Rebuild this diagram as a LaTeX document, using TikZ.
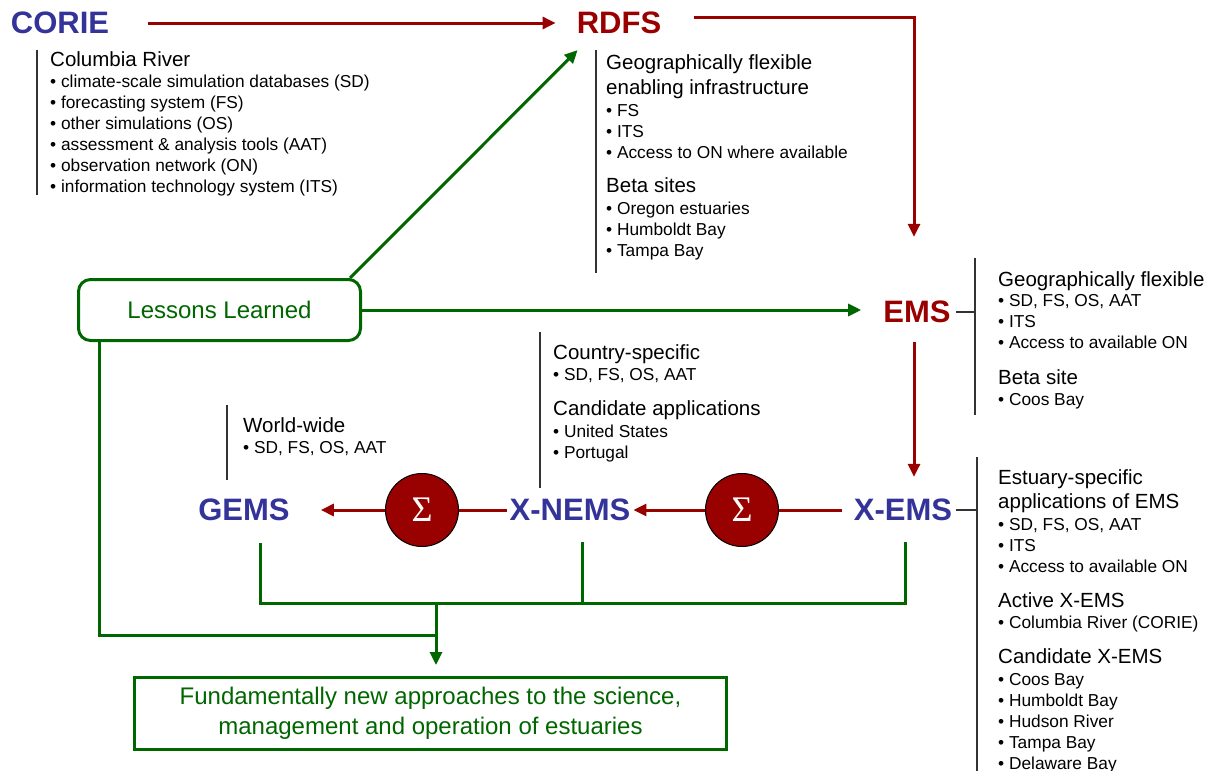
\documentclass[tikz,border=0pt]{standalone}
\usepackage{fontspec}
\setmainfont{Liberation Sans}
\newfontfamily\sigfont{Liberation Serif}
\usetikzlibrary{arrows.meta,calc}
\definecolor{blueT}{RGB}{51,51,153}
\definecolor{dred}{RGB}{153,0,0}
\definecolor{dgreen}{RGB}{0,102,0}
\newcommand\myhd[4]{\node[hd] (#1) at (#2,#3) {#4};}
\newcommand\mybu[4]{\node[bu] (#1) at (#2,#3) {•\ #4};}
\tikzset{
  redc/.style={draw=dred, line width=3pt},
  redarrow/.style={redc, -{Triangle[length=13pt,width=12pt]}},
  gline/.style={draw=dgreen, line width=3pt},
  garrow/.style={gline, -{Triangle[length=13pt,width=12pt]}},
  bline/.style={draw=black!80, line width=1.2pt},
  ttlb/.style={font=\fontsize{31}{31}\selectfont\bfseries, text=blueT, inner sep=0pt},
  ttlr/.style={font=\fontsize{31}{31}\selectfont\bfseries, text=dred, inner sep=0pt},
  hd/.style={font=\fontsize{20.5}{24}\selectfont, inner sep=0pt, anchor=base west},
  bu/.style={font=\fontsize{17.3}{20}\selectfont, inner sep=0pt, anchor=base west},
  sigc/.style={circle, fill=dred, draw=black, line width=1pt, minimum size=73pt, inner sep=0pt, text=white, font=\sigfont\fontsize{36}{36}\selectfont},
}
\begin{document}
\begin{tikzpicture}[x=1pt,y=-1pt]
\useasboundingbox (0,0) rectangle (1216,771);

% main labels
\node[ttlb] (corie) at (60,23) {CORIE};
\node[ttlr] (rdfs) at (619,23) {RDFS};
\node[ttlr] (ems) at (917,312) {EMS};
\node[ttlb] (xems) at (903,510) {X-EMS};
\node[ttlb] (xnems) at (570,510) {X-NEMS};
\node[ttlb] (gems) at (244,510) {GEMS};
\node[sigc] (sig2) at (742,510) {Σ};
\node[sigc] (sig1) at (422,510) {Σ};

\node[draw=dgreen, line width=3pt, rounded corners=12pt, minimum width=282pt, minimum height=61pt,
      text=dgreen, font=\fontsize{24}{24}\selectfont] (lessons) at (219.5,310) {Lessons Learned};
\node[draw=dgreen, line width=3pt, minimum width=592pt, minimum height=72pt, align=center,
      text=dgreen, font=\fontsize{24}{30}\selectfont] (fin) at (430.5,713.5)
      {Fundamentally new approaches to the science,\\management and operation of estuaries};

% CORIE block
\coordinate (cb1) at (37,50); \coordinate (cb2) at (37,195);
\draw[bline] (cb1) -- (cb2);
\myhd{c0}{50}{66}{Columbia River}
\mybu{c1}{50}{87.5}{climate-scale simulation databases (SD)}
\mybu{c2}{50}{108.5}{forecasting system (FS)}
\mybu{c3}{50}{129.5}{other simulations (OS)}
\mybu{c4}{50}{150.5}{assessment \& analysis tools (AAT)}
\mybu{c5}{50}{171.5}{observation network (ON)}
\mybu{c6}{50}{192.5}{information technology system (ITS)}

% RDFS block
\coordinate (rb1) at (596,50); \coordinate (rb2) at (596,273);
\draw[bline] (rb1) -- (rb2);
\myhd{r0}{606}{69}{Geographically flexible}
\myhd{r1}{606}{94}{enabling infrastructure}
\mybu{r2}{606}{116}{FS}
\mybu{r3}{606}{137}{ITS}
\mybu{r4}{606}{158}{Access to ON where available}
\myhd{r5}{606}{192}{Beta sites}
\mybu{r6}{606}{214}{Oregon estuaries}
\mybu{r7}{606}{235}{Humboldt Bay}
\mybu{r8}{606}{256}{Tampa Bay}

% EMS block
\coordinate (eb1) at (975,258); \coordinate (eb2) at (975,415);
\draw[bline] (eb1) -- (eb2);
\draw[bline] ($(ems.east)+(5,0)$) -- (ems.east -| eb1);
\myhd{e0}{998}{286}{Geographically flexible}
\mybu{e1}{998}{306}{SD, FS, OS, AAT}
\mybu{e2}{998}{327}{ITS}
\mybu{e3}{998}{348}{Access to available ON}
\myhd{e4}{998}{384}{Beta site}
\mybu{e5}{998}{405}{Coos Bay}

% X-EMS block
\coordinate (xb1) at (977,457); \coordinate (xb2) at (977,775);
\draw[bline] (xb1) -- (xb2);
\draw[bline] ($(xems.east)+(4,0)$) -- (xems.east -| xb1);
\myhd{x0}{998}{484}{Estuary-specific}
\myhd{x1}{998}{508}{applications of EMS}
\mybu{x2}{998}{530}{SD, FS, OS, AAT}
\mybu{x3}{998}{551}{ITS}
\mybu{x4}{998}{572}{Access to available ON}
\myhd{x5}{998}{607}{Active X-EMS}
\mybu{x6}{998}{628}{Columbia River (CORIE)}
\myhd{x7}{998}{663}{Candidate X-EMS}
\mybu{x8}{998}{685}{Coos Bay}
\mybu{x9}{998}{706}{Humboldt Bay}
\mybu{x10}{998}{727}{Hudson River}
\mybu{x11}{998}{748}{Tampa Bay}
\mybu{x12}{998}{769}{Delaware Bay}

% X-NEMS block
\coordinate (nb1) at (540,332); \coordinate (nb2) at (540,488);
\draw[bline] (nb1) -- (nb2);
\myhd{n0}{553}{359}{Country-specific}
\mybu{n1}{553}{380}{SD, FS, OS, AAT}
\myhd{n2}{553}{415}{Candidate applications}
\mybu{n3}{553}{437}{United States}
\mybu{n4}{553}{458}{Portugal}

% GEMS block
\coordinate (gb1) at (227,405); \coordinate (gb2) at (227,480);
\draw[bline] (gb1) -- (gb2);
\myhd{g0}{243}{432}{World-wide}
\mybu{g1}{243}{453}{SD, FS, OS, AAT}

% red connectors
\draw[redarrow] ($(corie.east)+(39,0)$) -- ($(rdfs.west)+(-21,0)$);
\draw[redarrow] ($(rdfs.east)+(33,-6)$) -| ($(ems.north)+(-3,-64)$);
\draw[redarrow] ($(ems.south)+(-3,19)$) -- ($(xems.north)+(11,-22)$);
\draw[redc] ($(xems.west)+(-12,0)$) -- (sig2.east);
\draw[redarrow] (sig2.west) -- ($(xnems.east)+(3,0)$);
\draw[redc] ($(xnems.west)+(-3,0)$) -- (sig1.east);
\draw[redarrow] (sig1.west) -- ($(gems.east)+(31,0)$);

% green connectors
\coordinate (j) at (436,603);
\draw[garrow] ($(lessons.north east)+(-12,0)$) -- ($(rdfs.south west)+(1,16)$);
\draw[garrow] (lessons.east) -- ($(lessons.east -| ems.west)+(-22,0)$);
\draw[gline] ($(gems.south)+(16,22)$) |- (j);
\draw[gline] ($(xems.south)+(2,21)$) |- (j);
\coordinate (xn) at ($(xnems.south)+(12,21)$);
\draw[gline] (xn) -- (xn |- j);
\draw[gline] ($(lessons.south west)+(22,0)$) |- ($(j)+(0,32)$);
\draw[garrow] (j) -- ($(fin.north)+(5.5,-11)$);
\end{tikzpicture}
\end{document}
